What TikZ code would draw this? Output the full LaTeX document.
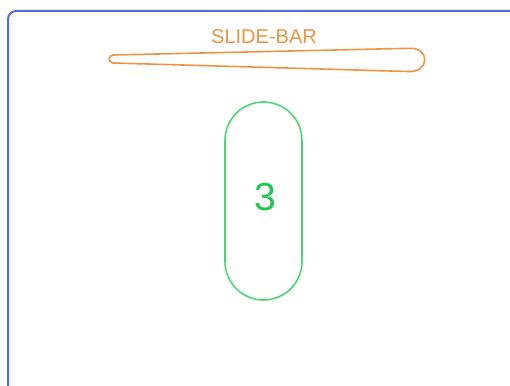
\documentclass[tikz,border=0pt]{standalone}
\usepackage{fontspec}
\setmainfont{Liberation Sans}
\definecolor{frameblue}{HTML}{4F6FD6}
\definecolor{barorange}{HTML}{EE9340}
\definecolor{stadgreen}{HTML}{4CD66E}
\definecolor{numgreen}{HTML}{1FC84E}
\begin{document}
\begin{tikzpicture}[x=1pt,y=-1pt,
  framestyle/.style={draw=frameblue,line width=2pt,rounded corners=8pt},
  barstyle/.style={draw=barorange,line width=1.6pt,line join=round},
  stadium/.style={draw=stadgreen,line width=1.6pt,rounded corners=38.5pt,minimum width=77pt,minimum height=198pt,inner sep=0pt},
  bartext/.style={text=barorange,font=\fontsize{20}{22}\selectfont,inner sep=0pt},
  numtext/.style={text=numgreen,font=\fontsize{39}{41}\selectfont,inner sep=0pt}]
\useasboundingbox (0,0) rectangle (510,385);
\draw[framestyle] (8,400) -- (8,11) -- (525,11);
\draw[barstyle] (113,55) -- (410,48.3) .. controls (430,47.5) and (430,73) .. (408,71.5) -- (113,63) .. controls (108,62.8) and (108,55.2) .. (113,55) -- cycle;
\node[bartext] (title) at (264,37) {SLIDE-BAR};
\node[stadium] (pill) at (263.5,201) {};
\node[numtext] (num) at (265,197) {3};
\end{tikzpicture}
\end{document}
